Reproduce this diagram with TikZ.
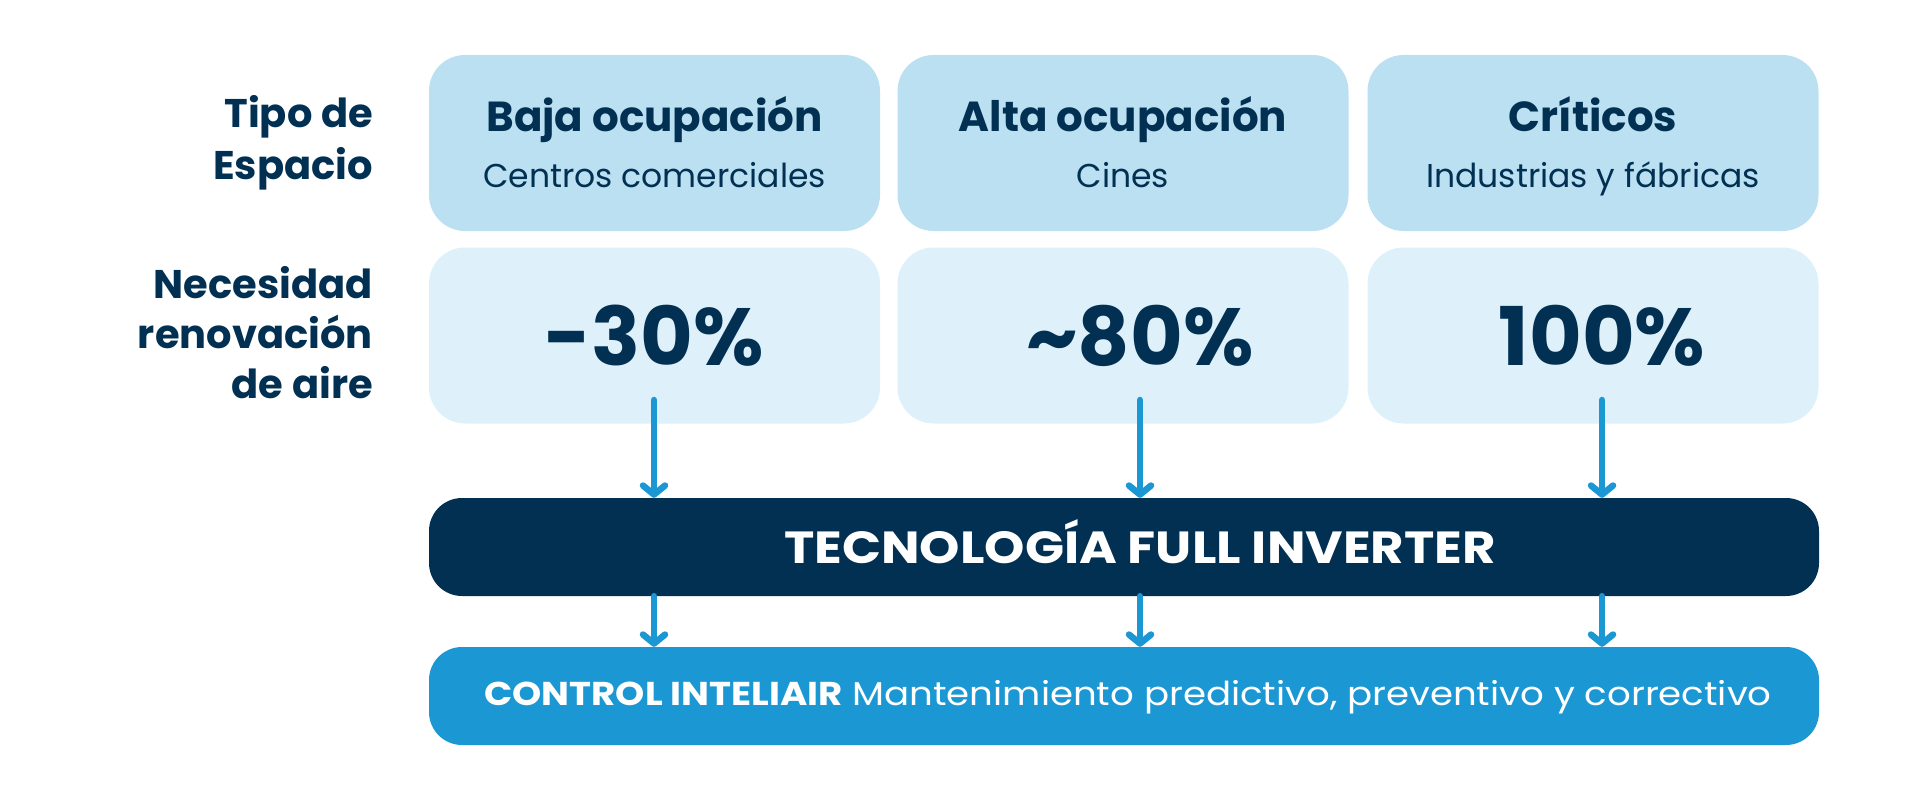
\documentclass[tikz,border=0pt]{standalone}
\usepackage{fontspec}
\setmainfont{Poppins}
\newfontfamily\ancha[FakeStretch=1.14]{Poppins}
\newfontfamily\media[FakeStretch=1.125]{Poppins}
\usetikzlibrary{arrows.meta}
\definecolor{navy}{RGB}{1,48,82}
\definecolor{azul}{RGB}{27,152,212}
\definecolor{celeste}{RGB}{186,224,242}
\definecolor{palido}{RGB}{222,240,249}

\begin{document}
\begin{tikzpicture}[x=1pt,y=-1pt,line cap=round,line join=round,
  caja/.style={rounded corners=36pt,minimum width=451pt,minimum height=176pt,inner sep=0pt},
  barra/.style={rounded corners=33pt,minimum width=1390pt,minimum height=98pt,inner sep=0pt},
  etiq/.style={anchor=base east,inner sep=0pt,text=navy,font=\bfseries\fontsize{40}{50}\selectfont},
  flecha/.style={-{Straight Barb[length=9pt,width=22pt,round]},color=azul,line width=6.5pt}]
\useasboundingbox (0,0) rectangle (1920,800);

%etiquetas de filas
\foreach \t/\y [count=\i] in {Tipo de/128, Espacio/179}
  \node [etiq] (tipo\i) at (373,\y) {\t};
\foreach \t/\y [count=\i] in {Necesidad/298, renovación/348, de aire/398}
  \node [etiq] (nec\i) at (373,\y) {\t};

%barras
\node [barra,fill=navy] (tech) at (1124,547) {};
\node [barra,fill=azul] (ctrl) at (1124,696) {};
\node [anchor=base,text=white,font=\ancha\bfseries\fontsize{45}{50}\selectfont] (techtxt) at (1140,563) {TECNOLOGÍA FULL INVERTER};
\node [anchor=base,text=white,font=\media\fontsize{33}{40}\selectfont] (ctrltxt) at (1128,705)
  {\textbf{CONTROL INTELIAIR} Mantenimiento predictivo, preventivo y correctivo};

%columnas
\foreach \x/\p/\tit/\sub/\pct [count=\i] in
  {654.5/654/Baja ocupación/Centros comerciales/-30\%,
   1123/1140/Alta ocupación/Cines/\textasciitilde80\%,
   1593/1602/Críticos/Industrias y fábricas/100\%}
{
\node [caja,fill=celeste] (esp\i) at (\x,143) {};
\node [caja,fill=palido] (ren\i) at (\x,335.5) {};
\node [anchor=base,text=navy,font=\bfseries\fontsize{42}{50}\selectfont] (tit\i) at (\x,131) {\tit};
\node [anchor=base,text=navy,font=\fontsize{33}{40}\selectfont] (sub\i) at (\x,187) {\sub};
\node [anchor=base,text=navy,font=\bfseries\fontsize{81}{90}\selectfont] (pct\i) at (\p,365) {\pct};
\coordinate (f\i) at (\p,400);
\draw [flecha] (f\i) -- (f\i |- tech.north);
\draw [flecha] (f\i |- tech.south) -- (f\i |- ctrl.north);
}
\end{tikzpicture}
\end{document}
